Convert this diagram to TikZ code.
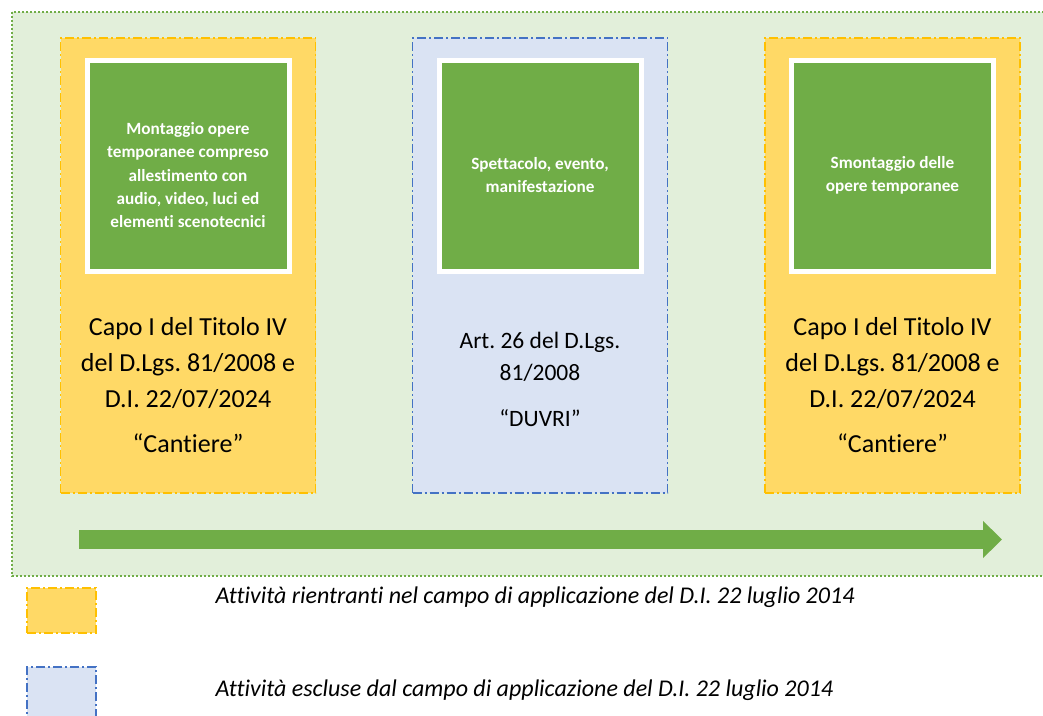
\documentclass[tikz,border=0pt]{standalone}
\usepackage{fontspec}
\setmainfont{Carlito}[Ligatures=NoCommon]
\usepackage{tikz}
\usetikzlibrary{positioning, arrows.meta}
\frenchspacing

\definecolor{fondo}{HTML}{E2EFDA}
\definecolor{verde}{HTML}{70AD47}
\definecolor{giallo}{HTML}{FFD966}
\definecolor{oro}{HTML}{FFC000}
\definecolor{celeste}{HTML}{DAE3F3}
\definecolor{blu}{HTML}{4472C4}

\begin{document}
\begin{tikzpicture}[
        x=1pt, y=-1pt,
        cantiere/.style={rectangle, fill=giallo, draw=oro, line width=1.8pt,
          dash pattern=on 9pt off 3pt on 2pt off 3pt,
          minimum width=255pt, minimum height=455pt},
        duvri/.style={cantiere, fill=celeste, draw=blu},
        fase/.style={rectangle, fill=verde, draw=white, line width=5pt,
          minimum width=202pt, minimum height=211pt},
        fasetxt/.style={text=white, align=center, font=\bfseries\fontsize{17.2}{23.4}\selectfont},
        normatxt/.style={align=center, font=\fontsize{26}{36}\selectfont},
        legtxt/.style={anchor=west, font=\itshape\fontsize{24}{28}\selectfont}
      ]
      \clip (0,0) rectangle (1043,715);
      \fill[white] (0,0) rectangle (1043,715);
      % area di lavoro
      \draw[fill=fondo, draw=verde, line width=2pt, dash pattern=on 2pt off 2pt]
        (12,12) rectangle (1060,576);
      % tre fasi
      \node[cantiere] (mont) at (188,265.5) {};
      \node[duvri] (spett) at (540,265.5) {};
      \node[cantiere] (smont) at (892.5,265.5) {};
      \node[fase] (montf) [below=21pt of mont.north] {};
      \node[fase] (spettf) [below=21pt of spett.north] {};
      \node[fase] (smontf) [below=21pt of smont.north] {};
      \node[fasetxt] (montt) at ([yshift=-9pt]montf.center)
        {Montaggio opere\\temporanee compreso\\allestimento con\\audio, video, luci ed\\elementi scenotecnici};
      \node[fasetxt] (spettt) at ([yshift=-9pt]spettf.center)
        {Spettacolo, evento,\\manifestazione};
      \node[fasetxt] (smontt) at ([yshift=-9pt]smontf.center)
        {Smontaggio delle\\opere temporanee};
      \node[normatxt] (montn) at (188,385)
        {Capo I del Titolo IV\\del D.Lgs. 81/2008 e\\D.I. 22/07/2024\\[9pt]“Cantiere”};
      \node[normatxt, font=\fontsize{23.5}{32}\selectfont] (spettn) at (540,379)
        {Art. 26 del D.Lgs.\\81/2008\\[14pt]“DUVRI”};
      \node[normatxt] (smontn) at (892.5,385)
        {Capo I del Titolo IV\\del D.Lgs. 81/2008 e\\D.I. 22/07/2024\\[9pt]“Cantiere”};
      % freccia temporale
      \coordinate (inizio) at (79,539.5);
      \coordinate (fine) at (1002,539.5);
      \draw[verde, line width=19pt, -{Triangle[width=36pt, length=19pt]}] (inizio) -- (fine);
      % legenda
      \node[cantiere, minimum width=69pt, minimum height=45pt] (legc) at (61.5,610.5) {};
      \node[duvri, minimum width=69pt, minimum height=50pt] (legd) at (61.5,692) {};
      \node[legtxt] (legct) at (212,597) {Attività rientranti nel campo di applicazione del D.I. 22 luglio 2014};
      \node[legtxt] (legdt) at (212,690) {Attività escluse dal campo di applicazione del D.I. 22 luglio 2014};
    \end{tikzpicture}
\end{document}
